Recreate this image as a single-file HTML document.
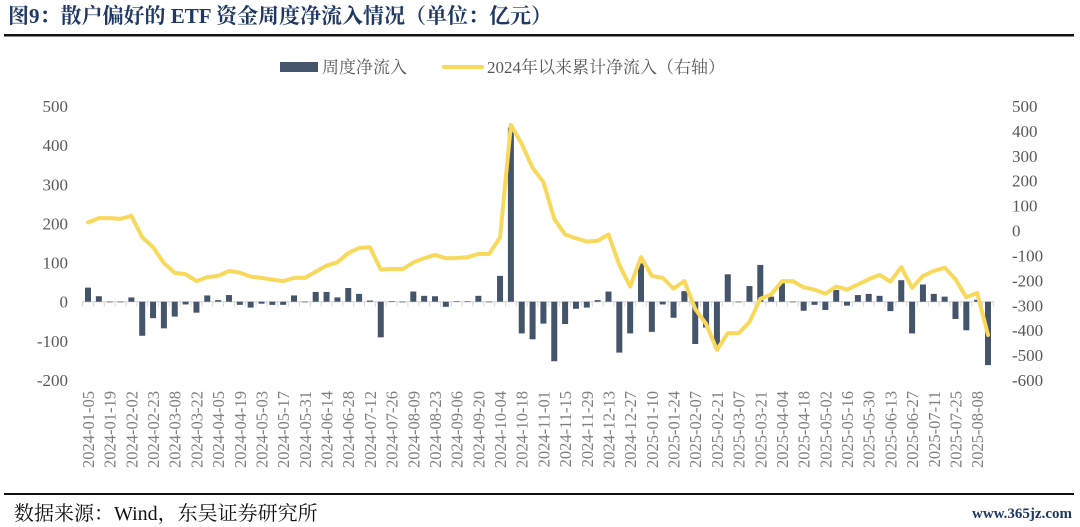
<!DOCTYPE html>
<html><head><meta charset="utf-8">
<style>
html,body{margin:0;padding:0;background:#fff;}
svg{display:block;}
</style></head>
<body>
<svg id="chart" width="1080" height="527" viewBox="0 0 1080 527" xmlns="http://www.w3.org/2000/svg">
<text x="8" y="23" font-family="'Liberation Serif','Noto Serif CJK SC',serif" font-size="21" font-weight="bold" fill="#1f3864">图9：散户偏好的 ETF 资金周度净流入情况（单位：亿元）</text>
<rect x="4" y="34" width="1070" height="2.5" fill="#111"/>
<g>
<rect x="280" y="62" width="38" height="10" fill="#44546a"/>
<text x="322" y="73" font-family="'Liberation Serif','Noto Serif CJK SC',serif" font-size="17" fill="#595959">周度净流入</text>
<rect x="442" y="65" width="42" height="4" rx="2" fill="#f9d95c"/>
<text x="487" y="73" font-family="'Liberation Serif','Noto Serif CJK SC',serif" font-size="17" fill="#595959">2024年以来累计净流入（右轴）</text>
</g>
<g id="axes"></g>
<g id="bars"></g>
<g id="line"></g>
<rect x="4" y="493" width="1070" height="2" fill="#111"/>
<text x="14" y="520" font-family="'Liberation Serif','Noto Serif CJK SC',serif" font-size="20" fill="#111">数据来源：Wind，东吴证券研究所</text>
<text x="1072" y="518" text-anchor="end" font-family="'Liberation Serif',serif" font-size="15" font-weight="bold" fill="#1f3864">www.365jz.com</text>
</svg>
<script>
const labeledDates = ["2024-01-05","2024-01-19","2024-02-02","2024-02-23","2024-03-08","2024-03-22","2024-04-05","2024-04-19","2024-05-03","2024-05-17","2024-05-31","2024-06-14","2024-06-28","2024-07-12","2024-07-26","2024-08-09","2024-08-23","2024-09-06","2024-09-20","2024-10-04","2024-10-18","2024-11-01","2024-11-15","2024-11-29","2024-12-13","2024-12-27","2025-01-10","2025-01-24","2025-02-07","2025-02-21","2025-03-07","2025-03-21","2025-04-04","2025-04-18","2025-05-02","2025-05-16","2025-05-30","2025-06-13","2025-06-27","2025-07-11","2025-07-25","2025-08-08"];
const weeklyFlow = [36,14,0,-1,11,-87,-42,-68,-38,-7,-28,16,4,17,-8,-15,-5,-8,-8,16,0,25,25,11,35,20,3,-91,1,0,26,15,14,-13,1,1,15,0,66,445,-81,-96,-56,-152,-57,-18,-15,4,26,-130,-81,98,-77,-7,-41,27,-108,-66,-120,70,0,40,94,13,47,0,-23,-8,-21,30,-10,17,20,15,-24,55,-81,44,20,13,-44,-73,5,-162];
const cumFlow = [33,50,50,47,59,-27,-67,-131,-170,-175,-203,-187,-182,-162,-169,-185,-190,-197,-203,-190,-190,-165,-141,-127,-91,-70,-67,-157,-154,-155,-128,-111,-98,-111,-110,-107,-94,-94,-27,424,348,252,194,47,-16,-31,-44,-41,-16,-138,-225,-107,-182,-190,-233,-203,-315,-375,-479,-412,-412,-368,-274,-257,-203,-203,-228,-237,-254,-225,-237,-217,-195,-178,-205,-147,-230,-182,-162,-149,-195,-268,-250,-419];
const leftTicks = [500,400,300,200,100,0,-100,-200];
const rightTicks = [500,400,300,200,100,0,-100,-200,-300,-400,-500,-600];

const NS="http://www.w3.org/2000/svg";
const x0=88, x1=988, yTop=106, yBot=380;
const n=weeklyFlow.length;
const xs=i=>x0+(x1-x0)*i/(n-1);
const yL=v=>yTop+(500-v)*(yBot-yTop)/700;
const yR=v=>yTop+(500-v)*(yBot-yTop)/1100;
function mk(tag,attrs,parent){const e=document.createElementNS(NS,tag);for(const k in attrs)e.setAttribute(k,attrs[k]);parent.appendChild(e);return e;}
const axes=document.getElementById('axes'),bars=document.getElementById('bars'),line=document.getElementById('line');
const font="'Liberation Serif',serif";
leftTicks.forEach(v=>{const t=mk('text',{x:68,y:yL(v)+6,'text-anchor':'end','font-family':font,'font-size':17,fill:'#595959'},axes);t.textContent=v;

});
rightTicks.forEach(v=>{const t=mk('text',{x:1012,y:yR(v)+6,'font-family':font,'font-size':17,fill:'#595959'},axes);t.textContent=v;

});
const z=yL(0);
const ax=mk('line',{x1:xs(0)-6,x2:xs(n-1)+6,y1:z,y2:z,stroke:'#d9d9d9','stroke-width':1.2},axes);


for(let i=0;i<=n;i++){const tx=xs(0)-(x1-x0)/(n-1)/2+i*(x1-x0)/(n-1);
const tk=mk('line',{x1:tx,x2:tx,y1:z,y2:z+5,stroke:'#d9d9d9','stroke-width':1},axes);

}
labeledDates.forEach((d,k)=>{const cx=xs(2*k)+6;const t=mk('text',{x:0,y:0,'text-anchor':'end','font-family':font,'font-size':16.5,fill:'#7f7f7f',transform:`translate(${cx},391) rotate(-90)`},axes);t.textContent=d;

});
weeklyFlow.forEach((v,i)=>{const y=yL(v);const r=mk('rect',{x:xs(i)-3,y:Math.min(y,z),width:6,height:Math.max(Math.abs(y-z),0.6),fill:'#44546a'},bars);

});
const p=mk('polyline',{points:cumFlow.map((v,i)=>xs(i)+','+yR(v)).join(' '),fill:'none',stroke:'#f9d95c','stroke-width':4,'stroke-linejoin':'round','stroke-linecap':'round'},line);


</script>
</body></html>
